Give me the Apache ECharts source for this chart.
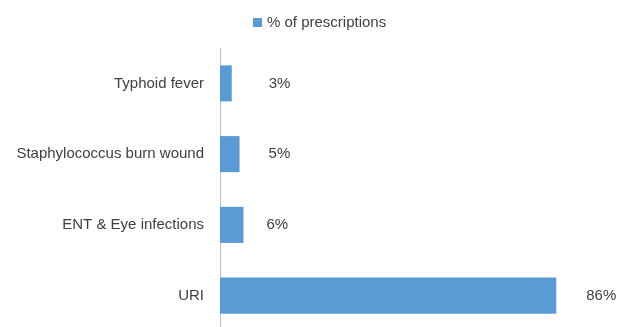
<!DOCTYPE html>
<html>
<head>
<meta charset="utf-8">
<script src="https://cdn.jsdelivr.net/npm/echarts@6/dist/echarts.min.js"></script>
<style>
  html, body { margin: 0; padding: 0; background: #fff; overflow: hidden; }
  #chart { width: 624px; height: 331px; }
</style>
</head>
<body>
<div id="chart"></div>
<script>
// bottom to top, as drawn
const categories = ['URI', 'ENT & Eye infections', 'Staphylococcus burn wound', 'Typhoid fever'];
const prescriptions = [86, 6, 5, 3];
const seriesName = '% of prescriptions';

// label gaps from the bar end (labels were nudged in the original)
const labelGap = [30, 23, 29, 37];

const chart = echarts.init(document.getElementById('chart'));
const textColor = '#404040';
const font = 'Liberation Sans, Arial, sans-serif';

chart.setOption({
    animation: false,
    legend: {
        data: [seriesName],
        top: 10,
        left: 248,
        itemWidth: 9,
        itemHeight: 9,
        itemGap: 4,
        icon: 'rect',
        textStyle: { color: textColor, fontSize: 15, fontFamily: font }
    },
    grid: { left: 220, top: 48, width: 391, bottom: 0 },
    xAxis: {
        type: 'value',
        min: 0,
        max: 100,
        show: false
    },
    yAxis: {
        type: 'category',
        data: categories,
        axisLine: { show: true, lineStyle: { color: '#BFBFBF', width: 1 } },
        axisTick: { show: false },
        axisLabel: { color: textColor, fontSize: 15, fontFamily: font, margin: 16 }
    },
    series: [{
        name: seriesName,
        type: 'bar',
        barWidth: '51%',
        itemStyle: { color: '#5B9BD5' },
        data: prescriptions.map((v, i) => ({
            value: v,
            label: { distance: labelGap[i] }
        })),
        label: {
            show: true,
            position: 'right',
            color: textColor,
            fontSize: 15,
            fontFamily: font,
            formatter: '{c}%'
        }
    }]
});
</script>
</body>
</html>
